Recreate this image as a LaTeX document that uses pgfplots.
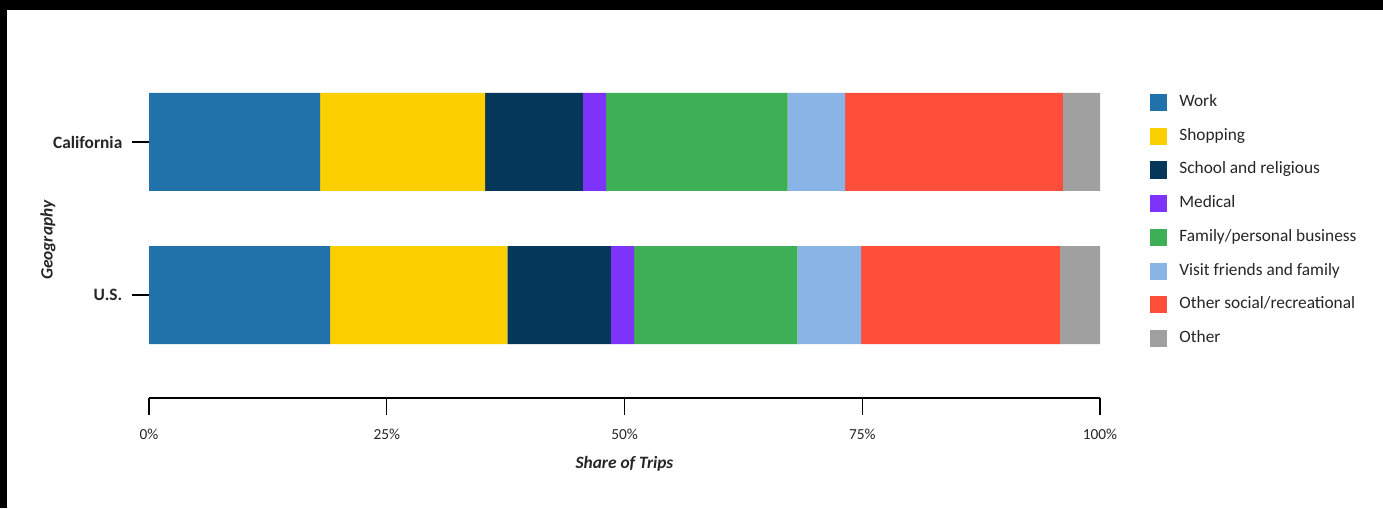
\documentclass[border=0pt]{standalone}
\usepackage{pgfplots}
\pgfplotsset{compat=1.18}
\usepackage{fontspec}
\setmainfont{Carlito}
\definecolor{cWork}{HTML}{2171AA}
\definecolor{cShop}{HTML}{FCCF00}
\definecolor{cSchool}{HTML}{05375B}
\definecolor{cMed}{HTML}{7D33FA}
\definecolor{cFam}{HTML}{3FAF55}
\definecolor{cVisit}{HTML}{8AB4E5}
\definecolor{cSoc}{HTML}{FF4F3A}
\definecolor{cOther}{HTML}{A0A0A0}
\begin{document}
\begin{tikzpicture}
\path[use as bounding box] (0pt,0pt) rectangle (1037.25pt,381pt);
\fill[white] (0pt,0pt) rectangle (1037.25pt,381pt);
\fill[black] (0pt,373.5pt) rectangle (1037.25pt,381pt);
\fill[black] (0pt,0pt) rectangle (5.25pt,381pt);
\begin{axis}[
  at={(111.75pt,82.5pt)}, anchor=south west,
  scale only axis, width=713.25pt, height=269.25pt,
  xbar stacked, bar width=73.5pt,
  xmin=0, xmax=100, ymin=-0.673, ymax=1.673,
  ytick={0,1}, yticklabels={U.S.,California},
  xtick={0,25,50,75,100}, xticklabels={0\%,25\%,50\%,75\%,100\%},
  axis lines*=left,
  y axis line style={draw=none},
  x axis line style={line width=1.5pt, black},
  tick align=outside, major tick length=12.5pt,
  tick style={black, line width=0.9pt},
  xticklabel style={font=\fontsize{11.5}{13}\selectfont, text=black!85, yshift=-7pt},
  yticklabel style={font=\bfseries\fontsize{13}{15}\selectfont, text=black!85, xshift=-4pt},
  xlabel={\textbf{\textit{Share of Trips}}},
  ylabel={\textbf{\textit{Geography}}},
  xlabel style={at={(axis description cs:0.5,0)}, anchor=center, yshift=-49.5pt, font=\fontsize{13}{15}\selectfont, text=black!85},
  ylabel style={at={(axis description cs:0,0.44)}, anchor=center, yshift=75.75pt, font=\fontsize{13}{15}\selectfont, text=black!85},
  legend image code/.code={\fill[#1] (0pt,-6.4pt) rectangle (12.75pt,6.4pt);},
  legend cell align=left,
  legend style={at={(1.0485,0.855)}, anchor=north west, draw=none, fill=none,
    font=\fontsize{13}{15}\selectfont, text=black!85, row sep=12.5pt,
    nodes={inner sep=0pt, text height=9pt, text depth=3pt},
    /tikz/every odd column/.append style={column sep=9pt}},
]
\addplot[fill=cWork, draw=none] coordinates {(18.00,1) (19.05,0)};
\addplot[fill=cShop, draw=none] coordinates {(17.35,1) (18.64,0)};
\addplot[fill=cSchool, draw=none] coordinates {(10.27,1) (10.87,0)};
\addplot[fill=cMed, draw=none] coordinates {(2.46,1) (2.45,0)};
\addplot[fill=cFam, draw=none] coordinates {(19.06,1) (17.18,0)};
\addplot[fill=cVisit, draw=none] coordinates {(6.05,1) (6.68,0)};
\addplot[fill=cSoc, draw=none] coordinates {(22.90,1) (20.92,0)};
\addplot[fill=cOther, draw=none] coordinates {(3.91,1) (4.21,0)};
\legend{Work,Shopping,School and religious,Medical,Family/personal business,Visit friends and family,Other social/recreational,Other}
\end{axis}
\end{tikzpicture}
\end{document}
